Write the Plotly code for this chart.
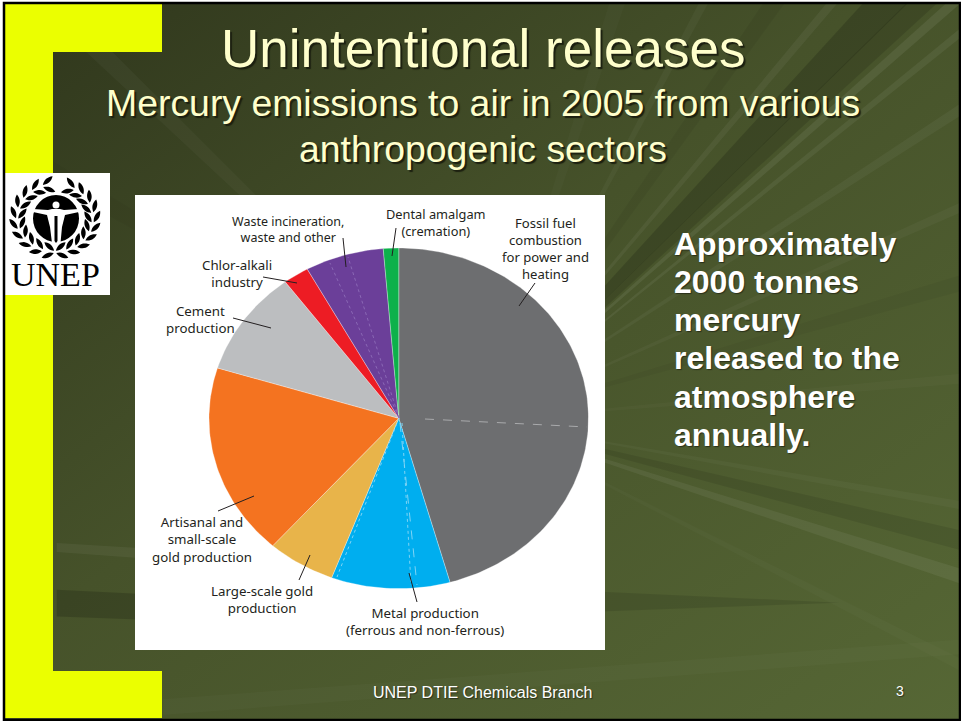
import math, base64
import plotly.graph_objects as go

W, H = 961, 721

# ---- data ----
sectors = ["Fossil fuel combustion for power and heating",
           "Metal production (ferrous and non-ferrous)",
           "Large-scale gold production",
           "Artisanal and small-scale gold production",
           "Cement production",
           "Chlor-alkali industry",
           "Waste incineration, waste and other",
           "Dental amalgam (cremation)"]
shares = [45.6, 10.1, 5.8, 18.2, 10.0, 2.2, 6.7, 1.3]
sector_labels = ["Waste incineration,<br>waste and other",
                 "Dental amalgam<br>(cremation)",
                 "Fossil fuel<br>combustion<br>for power and<br>heating",
                 "Chlor-alkali<br>industry",
                 "Cement<br>production",
                 "Artisanal and<br>small-scale<br>gold production",
                 "Large-scale gold<br>production",
                 "Metal production<br>(ferrous and non-ferrous)"]
title_lines = ["Unintentional releases", "Mercury emissions to air in 2005 from various", "anthropogenic sectors"]
side_lines = ["Approximately", "2000 tonnes", "mercury", "released to the", "atmosphere", "annually."]
footer = "UNEP DTIE Chemicals Branch"
page_number = "3"

# ---- styles and layout positions (pixels of the 961x721 page) ----
colors = ["#6D6E70", "#00AEEF", "#E8B44A", "#F47320", "#BCBEC0", "#ED1C24", "#6B3F99", "#0DB14B"]
label_xy = [(288, 229.5), (436, 222.5), (545, 248), (237, 273), (200.5, 319), (201.5, 539.5), (262, 599), (424.5, 621)]
label_size = [12.5, 12.8, 13.1, 13.3, 13.3, 13.3, 13.3, 13.3]
leaders = [(343, 238, 346, 267), (396, 228, 392, 256), (535, 283, 519, 306), (263, 277, 297, 283),
           (233, 318, 271, 328), (218, 511, 254, 496), (299, 580, 310, 555), (417, 602, 409, 573)]
subdivisions = [(425, 419, 587, 427, "#A9AAAC", "dash"), (400, 423, 417, 585, "#7FD4F5", "dash"),
                (402, 423, 411, 585, "#7FD4F5", "dot"), (399, 418, 337, 577, "#7FD4F5", "dot"),
                (399, 418, 330, 263, "#8A68B5", "dot"), (399, 418, 348, 257, "#8A68B5", "dot")]
title_y = [49, 103, 149]
title_size = [53, 37.4, 37.4]
side_y = [244, 282, 320, 358, 397, 435]


def px(x): return x / W
def py(y): return 1 - y / H


def rect(x0, y0, x1, y1, fill, layer="below"):
    return dict(type="rect", xref="paper", yref="paper", x0=px(x0), x1=px(x1), y0=py(y0), y1=py(y1),
                fillcolor=fill, line_width=0, layer=layer)


def line(x0, y0, x1, y1, color="#222222", width=1, dash="solid"):
    return dict(type="line", xref="paper", yref="paper", x0=px(x0), x1=px(x1), y0=py(y0), y1=py(y1),
                line=dict(color=color, width=width, dash=dash), layer="above")


def txt(s, x, y, size, color, family="Liberation Sans", anchor="center", bold=False, shadow=None):
    font = dict(size=size, color=color, family=family, weight=700 if bold else 400)
    if shadow:
        font["shadow"] = shadow
    return dict(text=s, x=px(x), y=py(y), xref="paper", yref="paper", xanchor=anchor, yanchor="middle",
                showarrow=False, font=font)


def ray_svg():
    cx, cy = 480, 420
    rays = [(18, .8, "#fff", .06), (14, 1.1, "#000", .09), (10, .5, "#fff", .03), (27, .6, "#fff", .02),
            (-5, .6, "#fff", .025), (-16, .9, "#000", .04), (-24, .5, "#fff", .035),
            (-33, .5, "#fff", .045), (-39, .35, "#fff", .06), (-41.5, .45, "#fff", .07),
            (-43.5, 1.0, "#000", .12), (-46, 1.6, "#000", .16), (-50, .45, "#fff", .05),
            (-55, 1.0, "#000", .05), (-62, .5, "#fff", .035), (-72, 1, "#fff", .02),
            (-136, 1.0, "#fff", .03), (-150, 1.2, "#000", .03)]
    out = []
    for ang, w, c, o in rays:
        a0, a1 = math.radians(ang - w), math.radians(ang + w)
        R = 1300
        out.append(f'<path d="M{cx} {cy}L{cx + R * math.cos(a0):.0f} {cy + R * math.sin(a0):.0f}'
                   f'L{cx + R * math.cos(a1):.0f} {cy + R * math.sin(a1):.0f}Z" fill="{c}" opacity="{o}"/>')
    # streaks at the left of the picture and under it
    out.append('<path d="M53 590L135 594L135 620L53 617Z" fill="#000" opacity=".16"/>')
    out.append('<path d="M53 543L135 548L135 558L53 552Z" fill="#fff" opacity=".05"/>')
    out.append('<path d="M600 592L840 603L600 612Z" fill="#000" opacity=".10"/>')
    out.append('<path d="M160 700L961 640L961 655L160 716Z" fill="#fff" opacity=".02"/>')
    svg = (f'<svg xmlns="http://www.w3.org/2000/svg" width="{W}" height="{H}" viewBox="0 0 {W} {H}">'
           '<defs><linearGradient id="g" x1="0" y1="0" x2="1" y2="1">'
           '<stop offset="0" stop-color="#2f361c"/><stop offset=".45" stop-color="#46522a"/>'
           '<stop offset="1" stop-color="#566735"/></linearGradient></defs>'
           f'<rect width="{W}" height="{H}" fill="url(#g)"/>' + "".join(out) + '</svg>')
    return "data:image/svg+xml;base64," + base64.b64encode(svg.encode()).decode()


def leaf(x, y, rot, half, width):
    top, bottom = [], []
    for i in range(9):
        u = -1 + i / 4
        w = width * (1 - u * u)
        top.append((u * half, w))
        bottom.append((u * half, -w))
    pts = top + bottom[::-1]
    return "M" + "L".join(
        f"{px(x + a * math.cos(rot) - b * math.sin(rot)):.5f},{py(y + a * math.sin(rot) + b * math.cos(rot)):.5f}"
        for a, b in pts) + "Z"


def wreath():
    cx, cy = 55, 218
    d = ""
    for s in (-1, 1):
        end = 10 if s == -1 else 22
        for k in range(10):
            t = math.radians(170 - k * (170 - end) / 9)
            base = math.atan2(-math.sin(t), -s * math.cos(t))
            for off, tilt in ((5, s * .55), (-4, -s * .55)):
                x = cx + s * (37 + off) * math.sin(t)
                y = cy - (33 + off) * math.cos(t)
                d += leaf(x, y, base + tilt, 6.5, 2.3)
    return dict(type="path", xref="paper", yref="paper", path=d, fillcolor="#000", line_width=0, layer="above")


def circle(cx, cy, rx, ry, fill):
    return dict(type="circle", xref="paper", yref="paper", x0=px(cx - rx), x1=px(cx + rx), y0=py(cy - ry),
                y1=py(cy + ry), fillcolor=fill, line_width=0, layer="above")


def poly(points, fill):
    return dict(type="path", xref="paper", yref="paper", layer="above", fillcolor=fill, line_width=0,
                path="M" + "L".join(f"{px(a):.5f},{py(b):.5f}" for a, b in points) + "Z")


fig = go.Figure()
start = 0.0
total = sum(shares)
for name, val, col in zip(sectors, shares, colors):
    end = start + val / total * 360
    n = max(3, int(val * 3))
    angs = [math.radians(start + (end - start) * i / n) for i in range(n + 1)]
    fig.add_trace(go.Scatter(x=[0] + [math.sin(a) for a in angs] + [0],
                             y=[0] + [math.cos(a) for a in angs] + [0],
                             mode="lines", fill="toself", fillcolor=col, name=name,
                             line=dict(color="rgba(255,255,255,0.6)", width=0.5), hoverinfo="name", showlegend=False))
    start = end

shapes = [rect(5, 4, 53, 718, "#EBFF00"), rect(5, 4, 162, 52, "#EBFF00"), rect(5, 671, 162, 718, "#EBFF00"),
          rect(5, 173, 110, 295, "#FFFFFF"), rect(135, 195, 605, 650, "#FFFFFF"),
          dict(type="rect", xref="paper", yref="paper", x0=px(4), x1=px(960), y0=py(3), y1=py(720),
               fillcolor="rgba(0,0,0,0)", line=dict(color="#000", width=2.5), layer="above")]
for x0, y0, x1, y1, c, dash in subdivisions:
    shapes.append(line(x0, y0, x1, y1, c, 1, dash))
for seg in leaders:
    shapes.append(line(*seg, "#231F20", 1))
shapes += [wreath(), circle(56, 218.5, 23, 23.5, "#000"),
           circle(56, 205, 3.5, 3.5, "#fff"),
           poly([(33, 209), (48, 210), (52, 209), (60, 209), (64, 210), (79, 209), (79, 212), (65, 215), (62, 227),
                 (60.5, 243), (52, 243), (50, 227), (47, 215), (33, 212)], "#fff"),
           poly([(54.5, 216), (57.5, 216), (57.5, 241), (56, 243), (54.5, 241)], "#000")]

ann = [txt(s, 483, y, size, "#FFFFCC", shadow="2px 2px 1px #1c2010")
       for s, y, size in zip(title_lines, title_y, title_size)]
ann += [txt(s, x, y, size, "#231F20", family="Noto Sans")
        for s, (x, y), size in zip(sector_labels, label_xy, label_size)]
ann += [txt(s, 672, y, 32, "#FFFFFF", anchor="left", bold=True, shadow="1px 1px 1px #2a301a")
        for s, y in zip(side_lines, side_y)]
ann += [txt(footer, 482, 692, 16, "#FFFFFF", shadow="1px 1px 1px #2a301a"),
        txt(page_number, 900, 691, 14, "#FFFFFF", shadow="1px 1px 1px #2a301a"),
        txt("UNEP", 55, 274, 34, "#000000", family="Liberation Serif")]

fig.update_layout(width=W, height=H, margin=dict(l=0, r=0, t=0, b=0), autosize=False,
                  paper_bgcolor="#FFFFFF", plot_bgcolor="rgba(0,0,0,0)",
                  xaxis=dict(domain=[px(209), px(588.5)], range=[-1, 1], visible=False, fixedrange=True),
                  yaxis=dict(domain=[py(588.7), py(248)], range=[-1, 1], visible=False, fixedrange=True),
                  shapes=shapes, annotations=ann,
                  images=[dict(source=ray_svg(), xref="paper", yref="paper", x=px(4), y=py(3), sizex=px(956),
                               sizey=717 / H, sizing="stretch", xanchor="left", yanchor="top", layer="below")])

fig.write_html("out.html", config=dict(displayModeBar=False),
               post_script="document.body.style.margin='0';document.body.style.overflow='hidden';")
